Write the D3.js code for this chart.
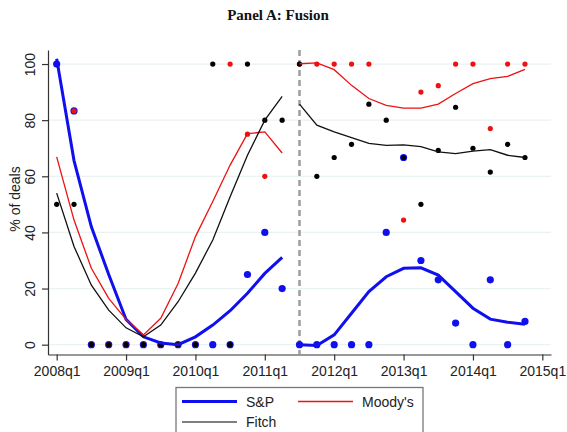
<!DOCTYPE html>
<meta charset="utf-8">
<style>
body { margin: 0; background: #fff; }
svg { background: #fff; }
.axis text { font-family: "Liberation Sans", Arial, sans-serif; font-size: 14px; fill: #222; }
.axis path, .axis line { stroke: #333; stroke-width: 1.2px; }
.grid line { stroke: #eaf2f3; stroke-width: 1.3px; }
.title { font-family: "Liberation Serif", "DejaVu Serif", serif; font-weight: bold; font-size: 15px; fill: #111; }
.ylab, .legend text { font-family: "Liberation Sans", Arial, sans-serif; font-size: 14px; fill: #222; }
</style>
<body>
<script src="https://d3js.org/d3.v7.min.js"></script>
<script>

// quarters 0 = 2008q1 ... 27 = 2014q4
var quarters = d3.range(28);
var tickLabels = ["2008q1","2009q1","2010q1","2011q1","2012q1","2013q1","2014q1","2015q1"];
var breakAt = 14; // 2011q3

// share of deals rated, per quarter (null = no observation)
var spDots =      [100, 83.3, 0, 0, 0, 0, 0, 0, 0, 0, 0, 25, 40, 20,
                   0, 0, 0, 0, 0, 40, 66.7, 30, 23.1, 7.7, 0, 23.1, 0, 8.3];
var moodysDots =  [null, 83.3, 0, 0, 0, 0, 0, 0, 0, null, 100, 75, 60, null,
                   100, 100, 100, 100, 100, null, 44.4, 90, 92.3, 100, 100, 77, 100, 100];
var fitchDots =   [50, 50, 0, 0, 0, 0, 0, 0, 0, 100, 0, 100, 80, 80,
                   100, 60, 66.7, 71.4, 85.7, 80, 66.7, 50, 69.2, 84.6, 70, 61.5, 71.4, 66.7];

// smoothed lines
var spFit =     [101.9, 65.6, 42, 25, 9, 2.8, 0.6, 0, 2.8, 7, 12.1, 18.3, 25.4, 31.1,
                 0, -0.3, 3.5, 11.2, 18.9, 24.2, 27.2, 27.4, 24.8, 18.9, 13, 9.1, 8, 7.3];
var moodysFit = [66.9, 44.4, 27.2, 16.5, 9, 3.5, 9.4, 21.8, 38.5, 51, 64, 75.2, 75.8, 68.3,
                 100.1, 100.4, 98, 92.4, 87.7, 85.3, 84.3, 84.3, 85.7, 89.5, 93, 94.8, 95.6, 98.1];
var fitchFit =  [54, 35, 21.2, 12.3, 6, 2.8, 7, 15.3, 25.5, 37.3, 52.7, 67.5, 80, 88.5,
                 85.7, 78.2, 75.8, 73.8, 71.7, 71, 71.2, 70.6, 68.7, 68.1, 69, 69.5, 67.5, 66.7];

var W = 567, H = 432;
var svg = d3.select("body").append("svg").attr("width", W).attr("height", H);

var x = d3.scaleLinear().domain([-0.5, 28.5]).range([48, 551]);
var y = d3.scaleLinear().domain([-3.5, 105]).range([354.5, 50]);

// title
svg.append("text").attr("class", "title")
  .attr("x", 278).attr("y", 20).attr("text-anchor", "middle")
  .text("Panel A: Fusion");

// grid
svg.append("g").attr("class", "grid")
  .selectAll("line").data([0, 20, 40, 60, 80, 100]).enter().append("line")
  .attr("x1", 48).attr("x2", 551)
  .attr("y1", function(d) { return y(d); }).attr("y2", function(d) { return y(d); });

// axes
svg.append("g").attr("class", "axis")
  .attr("transform", "translate(0," + 354.5 + ")")
  .call(d3.axisBottom(x).tickValues([0, 4, 8, 12, 16, 20, 24, 28])
    .tickSize(6).tickSizeOuter(0).tickPadding(6)
    .tickFormat(function(d, i) { return tickLabels[i]; }));

var yAxis = svg.append("g").attr("class", "axis")
  .attr("transform", "translate(48,0)")
  .call(d3.axisLeft(y).tickValues([0, 20, 40, 60, 80, 100]).tickSize(6).tickSizeOuter(0));
// vertical tick labels, Stata style
yAxis.selectAll(".tick text")
  .attr("transform", "translate(-13,0) rotate(-90)")
  .attr("x", 0).attr("y", 0).attr("dy", 0)
  .attr("text-anchor", "middle");

svg.append("text").attr("class", "ylab")
  .attr("transform", "translate(20,199) rotate(-90)")
  .attr("text-anchor", "middle")
  .text("% of deals");

// break line
svg.append("line")
  .attr("x1", x(breakAt)).attr("x2", x(breakAt))
  .attr("y1", 50).attr("y2", 354)
  .attr("stroke", "#a0a0a0").attr("stroke-width", 2.6)
  .attr("stroke-dasharray", "6,4");

var line = d3.line()
  .x(function(d) { return x(d.q); })
  .y(function(d) { return y(d.v); });

function pieces(vals) {
  var pts = quarters.map(function(q) { return {q: q, v: vals[q]}; });
  return [pts.slice(0, breakAt), pts.slice(breakAt)];
}

function dots(vals) {
  return quarters.filter(function(q) { return vals[q] != null; })
    .map(function(q) { return {q: q, v: vals[q]}; });
}

// S&P dots (drawn first, bigger)
svg.append("g").selectAll("circle").data(dots(spDots)).enter().append("circle")
  .attr("cx", function(d) { return x(d.q); }).attr("cy", function(d) { return y(d.v); })
  .attr("r", 3.6).attr("fill", "#1010ee");

svg.append("g").selectAll("circle").data(dots(moodysDots)).enter().append("circle")
  .attr("cx", function(d) { return x(d.q); }).attr("cy", function(d) { return y(d.v); })
  .attr("r", 2.6).attr("fill", "#ee1111");

svg.append("g").selectAll("circle").data(dots(fitchDots)).enter().append("circle")
  .attr("cx", function(d) { return x(d.q); }).attr("cy", function(d) { return y(d.v); })
  .attr("r", 2.6).attr("fill", "#000");

// fitted lines
pieces(spFit).forEach(function(p) {
  svg.append("path").datum(p).attr("d", line)
    .attr("fill", "none").attr("stroke", "#1010ee").attr("stroke-width", 3);
});
pieces(moodysFit).forEach(function(p) {
  svg.append("path").datum(p).attr("d", line)
    .attr("fill", "none").attr("stroke", "#ee1111").attr("stroke-width", 1.3);
});
pieces(fitchFit).forEach(function(p) {
  svg.append("path").datum(p).attr("d", line)
    .attr("fill", "none").attr("stroke", "#111").attr("stroke-width", 1.3);
});

// legend
var lg = svg.append("g").attr("class", "legend");
lg.append("rect").attr("x", 176).attr("y", 387.5).attr("width", 247).attr("height", 60)
  .attr("fill", "#fff").attr("stroke", "#777").attr("stroke-width", 1.3);
var items = [
  {name: "S&P", color: "#1010ee", w: 3, x: 182, y: 401.5},
  {name: "Moody's", color: "#ee1111", w: 1.3, x: 298, y: 401.5},
  {name: "Fitch", color: "#555", w: 1.6, x: 182, y: 422}
];
items.forEach(function(it) {
  lg.append("line").attr("x1", it.x).attr("x2", it.x + 55)
    .attr("y1", it.y).attr("y2", it.y)
    .attr("stroke", it.color).attr("stroke-width", it.w);
  lg.append("text").attr("x", it.x + 64).attr("y", it.y + 5).text(it.name);
});

</script>
</body>
